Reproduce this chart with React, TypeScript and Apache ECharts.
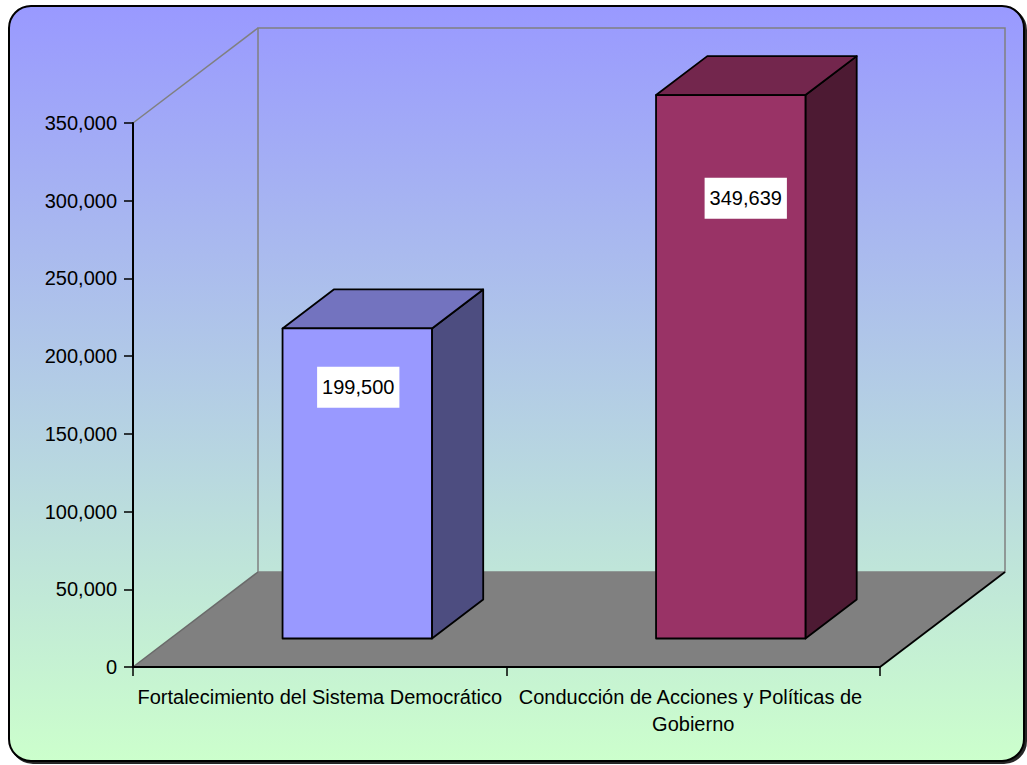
import React, { useEffect, useRef } from "react";
import * as echarts from "echarts";

const categories = [
  "Fortalecimiento del Sistema Democrático",
  "Conducción de Acciones y Políticas de Gobierno",
];
const values = [199500, 349639];
const yMin = 0;
const yMax = 350000;
const yInterval = 50000;

// style constants
const FRONT = ["#9999FF", "#993366"];
const TOP = ["#7373BF", "#73264D"];
const SIDE = ["#4D4D80", "#4D1A33"];
const LABEL_DX = [1, 15];
const DX = 125; // 3D depth projection of the plot
const DY = -95;
const FRONT_F = 0.3;
const DEPTH_F = 0.41;
const FONT = '"Liberation Sans", Arial, sans-serif';
const FS = 20;

export default function App() {
  const ref = useRef<HTMLDivElement>(null);
  useEffect(() => {
    if (!ref.current) return;
    const chart = echarts.init(ref.current, null, { renderer: "svg" });
    const fmt = (v: number) => Number(v).toLocaleString("en-US");
    const option: any = {
      animation: false,
      graphic: [
        {
          type: "rect",
          z: -10,
          silent: true,
          shape: { x: 9, y: 6, width: 1015, height: 755, r: 22 },
          style: {
            fill: new echarts.graphic.LinearGradient(0, 0, 0, 1, [
              { offset: 0, color: "#9999FF" },
              { offset: 1, color: "#CCFFCC" },
            ]),
            stroke: "#000",
            lineWidth: 2,
            shadowColor: "rgba(0,0,0,0.85)",
            shadowOffsetX: 2,
            shadowOffsetY: 2,
            shadowBlur: 0,
          },
        },
      ],
      grid: {
        left: 133,
        right: 147,
        top: 123,
        bottom: 98,
        containLabel: false,
        outerBoundsMode: "none",
      },
      xAxis: {
        type: "category",
        data: categories,
        z: 5,
        axisLine: { lineStyle: { color: "#000", width: 2 } },
        axisTick: { show: true, length: 9, lineStyle: { color: "#000", width: 1.5 } },
        axisLabel: {
          interval: 0,
          color: "#000",
          fontFamily: FONT,
          fontSize: FS,
          lineHeight: 27,
          margin: 16,
          width: 385,
          overflow: "break",
        },
        splitLine: { show: false },
      },
      yAxis: {
        type: "value",
        min: yMin,
        max: yMax,
        interval: yInterval,
        z: 5,
        axisLine: { show: true, lineStyle: { color: "#000", width: 2 } },
        axisTick: { show: true, length: 9, lineStyle: { color: "#000", width: 1.5 } },
        axisLabel: {
          color: "#000",
          fontFamily: FONT,
          fontSize: FS,
          margin: 16,
          formatter: (v: number) => fmt(v),
        },
        splitLine: { show: false },
      },
      series: [
        {
          type: "custom",
          name: "frame",
          z: 1,
          silent: true,
          clip: false,
          data: [[0, 0]],
          renderItem: (params: any) => {
            const cs = params.coordSys;
            const x0 = cs.x;
            const x1 = cs.x + cs.width;
            const yt = cs.y;
            const yb = cs.y + cs.height;
            const gray = "#808080";
            return {
              type: "group",
              children: [
                {
                  type: "polygon",
                  shape: {
                    points: [
                      [x0, yb],
                      [x0 + DX, yb + DY],
                      [x1 + DX, yb + DY],
                      [x1, yb],
                    ],
                  },
                  style: { fill: gray, stroke: "none" },
                },
                {
                  type: "line",
                  shape: { x1: x0, y1: yt, x2: x0 + DX, y2: yt + DY },
                  style: { stroke: gray, lineWidth: 1.5 },
                },
                {
                  type: "polyline",
                  shape: {
                    points: [
                      [x0 + DX, yb + DY],
                      [x0 + DX, yt + DY],
                      [x1 + DX, yt + DY],
                      [x1 + DX, yb + DY],
                      [x0 + DX, yb + DY],
                    ],
                  },
                  style: { stroke: gray, lineWidth: 1.5, fill: "none" },
                },
                {
                  type: "line",
                  shape: { x1: x0, y1: yb, x2: x0 + DX, y2: yb + DY },
                  style: { stroke: "#6a6a6a", lineWidth: 1.5 },
                },
                {
                  type: "line",
                  shape: { x1: x1, y1: yb, x2: x1 + DX, y2: yb + DY },
                  style: { stroke: "#000", lineWidth: 1.8 },
                },
              ],
            };
          },
        },
        {
          type: "custom",
          name: "bars",
          z: 3,
          clip: false,
          data: values.map((v, i) => [i, v]),
          renderItem: (params: any, api: any) => {
            const i = api.value(0);
            const v = api.value(1);
            const base = api.coord([i, 0]);
            const top = api.coord([i, v]);
            const bw = api.size([1, 0])[0] * 0.4;
            const fx = DX * FRONT_F;
            const fy = DY * FRONT_F;
            const bx = DX * DEPTH_F;
            const by = DY * DEPTH_F;
            const xl = base[0] + fx - bw / 2;
            const xr = xl + bw;
            const yb = base[1] + fy;
            const yt = top[1] + fy;
            const edge = { stroke: "#000", lineWidth: 1.8, lineJoin: "round" };
            return {
              type: "group",
              children: [
                {
                  type: "polygon",
                  shape: {
                    points: [
                      [xr, yt],
                      [xr + bx, yt + by],
                      [xr + bx, yb + by],
                      [xr, yb],
                    ],
                  },
                  style: { fill: SIDE[i], ...edge },
                },
                {
                  type: "polygon",
                  shape: {
                    points: [
                      [xl, yt],
                      [xl + bx, yt + by],
                      [xr + bx, yt + by],
                      [xr, yt],
                    ],
                  },
                  style: { fill: TOP[i], ...edge },
                },
                {
                  type: "rect",
                  shape: { x: xl, y: yt, width: bw, height: yb - yt },
                  style: { fill: FRONT[i], ...edge },
                },
                {
                  type: "text",
                  x: (xl + xr) / 2 + LABEL_DX[i],
                  y: yt + 0.19 * (yb - yt),
                  style: {
                    text: fmt(v),
                    fill: "#000",
                    font: `${FS}px ${FONT}`,
                    align: "center",
                    verticalAlign: "middle",
                    backgroundColor: "#fff",
                    padding: [11, 5, 10, 5],
                  },
                },
              ],
            };
          },
        },
      ],
    };
    chart.setOption(option);
    return () => chart.dispose();
  }, []);
  return (
    <div
      ref={ref}
      style={{ position: "absolute", left: 0, top: 0, width: 1027, height: 765 }}
    />
  );
}
